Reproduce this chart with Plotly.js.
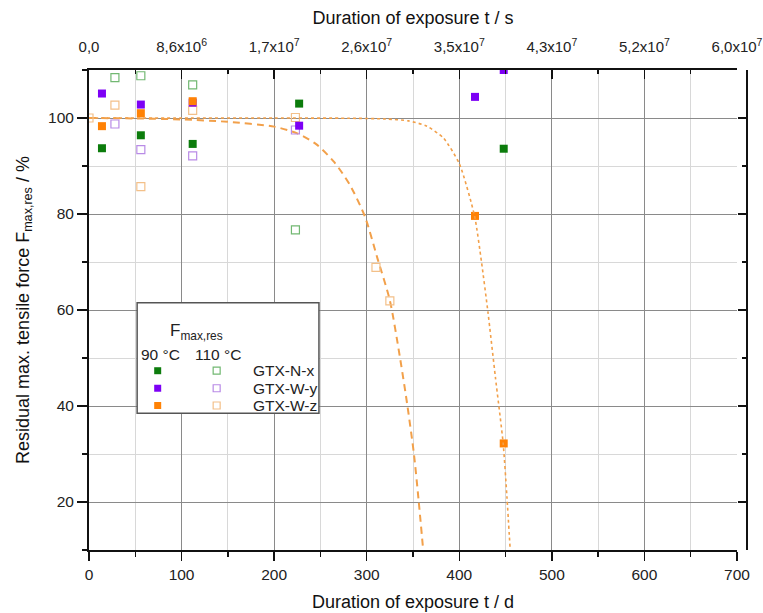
<!DOCTYPE html>
<html><head><meta charset="utf-8">
<script src="https://cdn.plot.ly/plotly-3.0.1.min.js"></script>
<style>html,body{margin:0;padding:0;background:#fff;}#chart{width:763px;height:613px;}</style>
</head><body><div id="chart"></div>
<script>
// ---- data (days, % residual max. tensile force) ----
const nx90_t = [14, 56, 112, 227, 448];
const nx90_v = [93.7, 96.4, 94.6, 103.0, 93.6];
const wy90_t = [14, 56, 112, 227, 417, 448];
const wy90_v = [105.1, 102.8, 103.2, 98.4, 104.4, 110.0];
const wz90_t = [14, 56, 112, 417, 448];
const wz90_v = [98.3, 101.0, 103.5, 79.6, 32.2];

const nx110_t = [28, 56, 112, 223];
const nx110_v = [108.4, 108.8, 106.9, 76.7];
const wy110_t = [28, 56, 112, 223];
const wy110_v = [98.75, 93.4, 92.1, 97.5];
const wz110_t = [0, 28, 56, 112, 223, 310, 325];
const wz110_v = [100.0, 102.7, 85.7, 101.6, 100.1, 68.9, 61.9];

// fitted curves
const fit110_t = [0, 50, 100, 150, 200, 225, 245, 265, 282, 298, 312, 325, 336, 344, 351, 356, 361];
const fit110_v = [100, 99.9, 99.7, 99.2, 98.2, 96.8, 94.6, 90.8, 86, 79.5, 70.5, 62, 50, 40, 30, 20.5, 10];
const fit90_t = [0, 100, 200, 280, 320, 345, 365, 383, 400, 416.5, 424, 431, 439, 447.4, 451.5, 455];
const fit90_v = [100, 100, 100, 99.95, 99.8, 99.4, 98.3, 95.8, 90.5, 79.6, 70, 59.5, 46, 32.2, 21, 10];

// axis ticks
const dayTicks = [0, 100, 200, 300, 400, 500, 600, 700];
const secTickText = ['0,0', '8,6x10<sup>6</sup>', '1,7x10<sup>7</sup>', '2,6x10<sup>7</sup>',
  '3,5x10<sup>7</sup>', '4,3x10<sup>7</sup>', '5,2x10<sup>7</sup>', '6,0x10<sup>7</sup>'];
const legendNames = ['GTX-N-x', 'GTX-W-y', 'GTX-W-z'];

const cGreen = '#0c7c0c', cPurple = '#7d00f5', cOrange = '#ff8205';
const oGreen = '#72b872', oPurple = '#b98be6', oOrange = '#f3c089';
const FONT = 'Liberation Sans, Arial, sans-serif';

function filled(t, v, c) {
  return {x: t, y: v, type: 'scatter', mode: 'markers',
    marker: {symbol: 'square', size: 8, color: c, line: {width: 0}}, hoverinfo: 'x+y'};
}
function openM(t, v, c) {
  return {x: t, y: v, type: 'scatter', mode: 'markers',
    marker: {symbol: 'square-open', size: 8, color: c, line: {width: 1.2, color: c}}, hoverinfo: 'x+y'};
}

const traces = [
  {x: fit110_t, y: fit110_v, type: 'scatter', mode: 'lines',
   line: {color: '#f2a04a', width: 2, dash: '7px,5px', shape: 'spline', smoothing: 0.7}},
  {x: fit90_t, y: fit90_v, type: 'scatter', mode: 'lines', xaxis: 'x2', yaxis: 'y2',
   line: {color: '#f2a04a', width: 1.6, dash: 'dot', shape: 'spline', smoothing: 0.6}},
  openM(nx110_t, nx110_v, oGreen),
  openM(wy110_t, wy110_v, oPurple),
  openM(wz110_t, wz110_v, oOrange),
  filled(nx90_t, nx90_v, cGreen),
  filled(wy90_t, wy90_v, cPurple),
  filled(wz90_t, wz90_v, cOrange)
];

const tickFont = {family: FONT, size: 15.5, color: '#222'};
const topTickFont = {family: FONT, size: 15, color: '#222'};
const titleFont = {family: FONT, size: 18, color: '#111'};

const shapes = [
  {type: 'rect', xref: 'x', yref: 'y', x0: 52, x1: 248.4, y0: 38.5, y1: 61.5,
   line: {color: '#555', width: 1.5}, fillcolor: '#fff', layer: 'above'}
];
const annotations = [
  {xref: 'x', yref: 'y', x: 85, y: 55.4, xanchor: 'left', yanchor: 'middle', showarrow: false,
   text: 'F<sub>max,res</sub>', font: {family: FONT, size: 17, color: '#222'}},
  {xref: 'x', yref: 'y', x: 76.7, y: 50.8, xanchor: 'center', yanchor: 'middle', showarrow: false,
   text: '90 °C', font: {family: FONT, size: 15.5, color: '#222'}},
  {xref: 'x', yref: 'y', x: 139.8, y: 50.8, xanchor: 'center', yanchor: 'middle', showarrow: false,
   text: '110 °C', font: {family: FONT, size: 15.5, color: '#222'}}
];
const rowsY = [47.35, 43.7, 40.1];
const fillCols = [cGreen, cPurple, cOrange];
const openCols = [oGreen, oPurple, oOrange];
for (let i = 0; i < 3; i++) {
  annotations.push({xref: 'x', yref: 'y', x: 175.5, y: rowsY[i], xanchor: 'left', yanchor: 'middle',
    showarrow: false, text: legendNames[i], font: {family: FONT, size: 15.5, color: '#222'}});
  shapes.push({type: 'rect', xref: 'x', yref: 'y', xsizemode: 'pixel', ysizemode: 'pixel',
    xanchor: 74.2, yanchor: rowsY[i], x0: -3.5, x1: 3.5, y0: -3.5, y1: 3.5,
    fillcolor: fillCols[i], line: {width: 0}, layer: 'above'});
  shapes.push({type: 'rect', xref: 'x', yref: 'y', xsizemode: 'pixel', ysizemode: 'pixel',
    xanchor: 137.9, yanchor: rowsY[i], x0: -3.5, x1: 3.5, y0: -3.5, y1: 3.5,
    fillcolor: 'rgba(0,0,0,0)', line: {width: 1.2, color: openCols[i]}, layer: 'above'});
}

const xdom = [0, 648 / 658];
const layout = {
  width: 763, height: 613,
  margin: {l: 89, r: 16, t: 70, b: 63, pad: 0},
  paper_bgcolor: '#fff', plot_bgcolor: '#fff',
  showlegend: false,
  font: {family: FONT},
  xaxis: {
    domain: xdom, range: [0, 700], tickvals: dayTicks, ticks: 'outside', ticklen: 9, tickwidth: 1.5,
    tickcolor: '#111', showline: true, linecolor: '#111', linewidth: 2, zeroline: false,
    showgrid: true, gridcolor: '#8a8a8a', gridwidth: 1, tickfont: tickFont,
    minor: {dtick: 50, tick0: 0, ticks: 'outside', ticklen: 5, tickwidth: 1.5, tickcolor: '#111',
            showgrid: true, gridcolor: '#d8d8d8', gridwidth: 1},
    title: {text: 'Duration of exposure t / d', font: titleFont, standoff: 14}
  },
  xaxis2: {
    overlaying: 'x', side: 'top', anchor: 'y', range: [0, 700], tickvals: dayTicks, ticktext: secTickText,
    ticks: 'inside', ticklen: 9, tickwidth: 1.5, tickcolor: '#111', showline: true, linecolor: '#111',
    linewidth: 2, showgrid: false, zeroline: false, tickfont: topTickFont, ticklabelstandoff: 10,
    ticklabeloverflow: 'allow',
    minor: {dtick: 50, tick0: 0, ticks: 'inside', ticklen: 4, tickwidth: 1.5, tickcolor: '#111', showgrid: false},
    title: {text: 'Duration of exposure t / s', font: titleFont, standoff: 6}
  },
  yaxis: {
    range: [10, 110], tick0: 0, dtick: 20, ticks: 'outside', ticklen: 10, tickwidth: 1.5, tickcolor: '#111',
    showline: true, linecolor: '#111', linewidth: 2, zeroline: false,
    showgrid: true, gridcolor: '#8a8a8a', gridwidth: 1, tickfont: tickFont,
    minor: {dtick: 10, tick0: 0, ticks: 'outside', ticklen: 5, tickwidth: 1.5, tickcolor: '#111',
            showgrid: true, gridcolor: '#d8d8d8', gridwidth: 1},
    title: {text: 'Residual max. tensile force F<sub>max,res</sub> / %', font: titleFont, standoff: 14}
  },
  yaxis2: {
    overlaying: 'y', side: 'right', anchor: 'free', position: 1, range: [10, 110], tick0: 0, dtick: 20,
    ticks: 'inside', ticklen: 8, tickwidth: 1.5, tickcolor: '#111', showticklabels: false,
    showline: true, linecolor: '#111', linewidth: 2, showgrid: false, zeroline: false,
    minor: {dtick: 10, tick0: 0, ticks: 'inside', ticklen: 4, tickwidth: 1.5, tickcolor: '#111', showgrid: false}
  },
  shapes: shapes,
  annotations: annotations
};

Plotly.newPlot('chart', traces, layout, {displayModeBar: false, staticPlot: true});
</script>
</body></html>
